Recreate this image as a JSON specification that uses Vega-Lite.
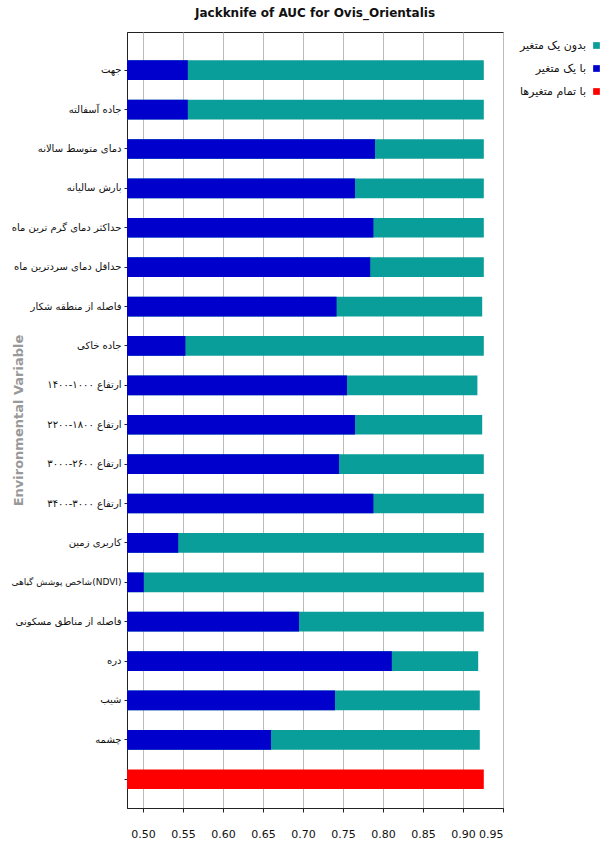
{
  "$schema": "https://vega.github.io/schema/vega-lite/v6.json",
  "width": 376,
  "height": 776,
  "autosize": {"type": "none"},
  "padding": {"left": 127, "top": 32, "right": 100, "bottom": 40},
  "background": "white",
  "title": {
    "text": "Jackknife of AUC for Ovis_Orientalis",
    "font": "DejaVu Sans",
    "fontSize": 12,
    "fontWeight": "bold",
    "color": "#111",
    "anchor": "middle",
    "offset": 12
  },
  "config": {
    "view": {"stroke": "#222", "strokeWidth": 1},
    "axis": {"labelFont": "DejaVu Sans", "titleFont": "DejaVu Sans"}
  },
  "data": {
    "values": [
      {"variable": "جهت", "type": "بدون یک متغیر", "value": 0.926},
      {"variable": "جاده آسفالته", "type": "بدون یک متغیر", "value": 0.926},
      {"variable": "دمای متوسط سالانه", "type": "بدون یک متغیر", "value": 0.926},
      {"variable": "بارش سالیانه", "type": "بدون یک متغیر", "value": 0.926},
      {"variable": "حداکثر دمای گرم ترین ماه", "type": "بدون یک متغیر", "value": 0.926},
      {"variable": "حداقل دمای سردترین ماه", "type": "بدون یک متغیر", "value": 0.926},
      {"variable": "فاصله از منطقه شکار", "type": "بدون یک متغیر", "value": 0.924},
      {"variable": "جاده خاکی", "type": "بدون یک متغیر", "value": 0.926},
      {"variable": "ارتفاع ۱۰۰۰-۱۴۰۰", "type": "بدون یک متغیر", "value": 0.918},
      {"variable": "ارتفاع ۱۸۰۰-۲۲۰۰", "type": "بدون یک متغیر", "value": 0.924},
      {"variable": "ارتفاع ۲۶۰۰-۳۰۰۰", "type": "بدون یک متغیر", "value": 0.926},
      {"variable": "ارتفاع ۳۰۰۰-۳۴۰۰", "type": "بدون یک متغیر", "value": 0.926},
      {"variable": "کاربری زمین", "type": "بدون یک متغیر", "value": 0.926},
      {"variable": "شاخص پوشش گیاهی(NDVI)", "type": "بدون یک متغیر", "value": 0.926},
      {"variable": "فاصله از مناطق مسکونی", "type": "بدون یک متغیر", "value": 0.926},
      {"variable": "دره", "type": "بدون یک متغیر", "value": 0.919},
      {"variable": "شیب", "type": "بدون یک متغیر", "value": 0.921},
      {"variable": "چشمه", "type": "بدون یک متغیر", "value": 0.921},
      {"variable": "جهت", "type": "با یک متغیر", "value": 0.556},
      {"variable": "جاده آسفالته", "type": "با یک متغیر", "value": 0.556},
      {"variable": "دمای متوسط سالانه", "type": "با یک متغیر", "value": 0.790},
      {"variable": "بارش سالیانه", "type": "با یک متغیر", "value": 0.765},
      {"variable": "حداکثر دمای گرم ترین ماه", "type": "با یک متغیر", "value": 0.788},
      {"variable": "حداقل دمای سردترین ماه", "type": "با یک متغیر", "value": 0.784},
      {"variable": "فاصله از منطقه شکار", "type": "با یک متغیر", "value": 0.742},
      {"variable": "جاده خاکی", "type": "با یک متغیر", "value": 0.553},
      {"variable": "ارتفاع ۱۰۰۰-۱۴۰۰", "type": "با یک متغیر", "value": 0.755},
      {"variable": "ارتفاع ۱۸۰۰-۲۲۰۰", "type": "با یک متغیر", "value": 0.765},
      {"variable": "ارتفاع ۲۶۰۰-۳۰۰۰", "type": "با یک متغیر", "value": 0.745},
      {"variable": "ارتفاع ۳۰۰۰-۳۴۰۰", "type": "با یک متغیر", "value": 0.788},
      {"variable": "کاربری زمین", "type": "با یک متغیر", "value": 0.544},
      {"variable": "شاخص پوشش گیاهی(NDVI)", "type": "با یک متغیر", "value": 0.501},
      {"variable": "فاصله از مناطق مسکونی", "type": "با یک متغیر", "value": 0.695},
      {"variable": "دره", "type": "با یک متغیر", "value": 0.811},
      {"variable": "شیب", "type": "با یک متغیر", "value": 0.740},
      {"variable": "چشمه", "type": "با یک متغیر", "value": 0.660},
      {"variable": "با تمام متغیرها", "type": "با تمام متغیرها", "value": 0.926}
    ]
  },
  "mark": {"type": "bar", "clip": true},
  "encoding": {
    "y": {
      "field": "variable",
      "type": "nominal",
      "sort": ["جهت", "جاده آسفالته", "دمای متوسط سالانه", "بارش سالیانه", "حداکثر دمای گرم ترین ماه", "حداقل دمای سردترین ماه", "فاصله از منطقه شکار", "جاده خاکی", "ارتفاع ۱۰۰۰-۱۴۰۰", "ارتفاع ۱۸۰۰-۲۲۰۰", "ارتفاع ۲۶۰۰-۳۰۰۰", "ارتفاع ۳۰۰۰-۳۴۰۰", "کاربری زمین", "شاخص پوشش گیاهی(NDVI)", "فاصله از مناطق مسکونی", "دره", "شیب", "چشمه", "با تمام متغیرها"],
      "scale": {"paddingInner": 0.5, "paddingOuter": 0.6, "align": 0.6},
      "axis": {
        "title": "Environmental Variable",
        "titleColor": "#999",
        "titleFontSize": 13,
        "titleFontWeight": "bold",
        "titleX": -109,
        "titleY": 388,
        "titleAngle": -90,
        "titleAlign": "center",
        "titleBaseline": "middle",
        "labelFontSize": {"condition": {"test": "datum.value == 'شاخص پوشش گیاهی(NDVI)'", "value": 9}, "value": 10},
        "labelColor": "#111",
        "labelPadding": 3,
        "labelLimit": 200,
        "labelExpr": "datum.value == 'با تمام متغیرها' ? '' : datum.value",
        "tickSize": 3,
        "tickColor": "#222",
        "domainColor": "#222",
        "grid": false
      }
    },
    "x": {
      "field": "value",
      "type": "quantitative",
      "stack": null,
      "scale": {"domain": [0.48, 0.95], "zero": false, "nice": false},
      "axis": {
        "title": null,
        "values": [0.5, 0.55, 0.6, 0.65, 0.7, 0.75, 0.8, 0.85, 0.9, 0.95],
        "format": ".2f",
        "labelFontSize": 11,
        "labelColor": "#111",
        "labelPadding": 16,
        "tickSize": 4,
        "tickColor": "#222",
        "domainColor": "#222",
        "grid": true,
        "gridColor": "#bbb",
        "gridWidth": 1
      }
    },
    "color": {
      "field": "type",
      "type": "nominal",
      "scale": {
        "domain": ["بدون یک متغیر", "با یک متغیر", "با تمام متغیرها"],
        "range": ["#0a9e9a", "#0000cc", "#ff0000"]
      },
      "legend": {
        "title": null,
        "orient": "none",
        "legendX": 464,
        "legendY": 8,
        "symbolType": "square",
        "symbolSize": 45,
        "symbolStrokeWidth": 0,
        "labelFont": "DejaVu Sans",
        "labelFontSize": 11,
        "labelColor": "#111",
        "labelAlign": "right",
        "labelOffset": -16,
        "rowPadding": 11,
        "padding": 0
      }
    }
  }
}
